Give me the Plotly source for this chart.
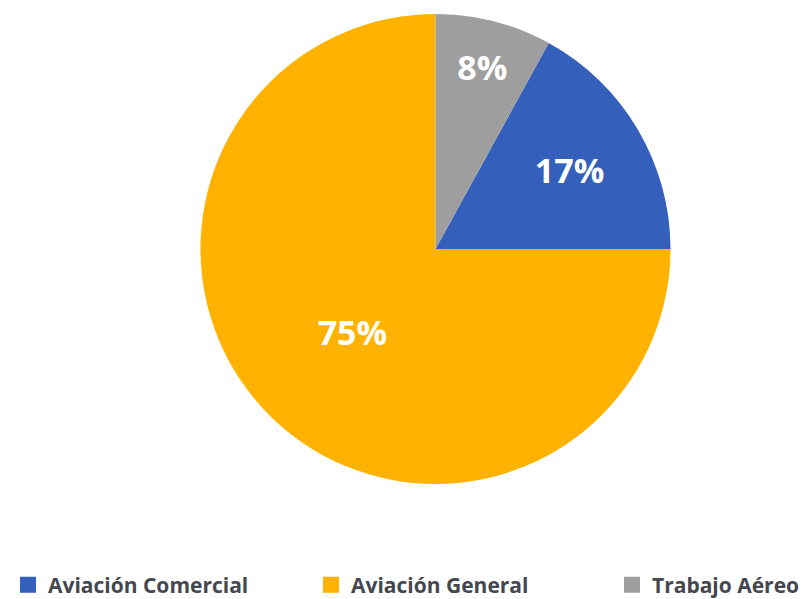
import plotly.graph_objects as go

labels = ["Aviación Comercial", "Aviación General", "Trabajo Aéreo"]
values = [17, 75, 8]
colors = ["#3460BB", "#FFB300", "#9E9E9E"]

legend_ids = ["legend", "legend2", "legend3"]
legend_x_px = [0, 303, 604]

W, H = 803, 591  # page body adds an 8px margin

fig = go.Figure()
fig.add_trace(go.Pie(
    labels=labels,
    values=values,
    marker=dict(colors=colors, line=dict(width=0)),
    sort=False,
    direction="clockwise",
    rotation=28.8,
    texttemplate="%{percent:.0%}",
    textposition="inside",
    insidetextorientation="horizontal",
    textfont=dict(family="Open Sans", size=34, color="white", weight="bold"),
    domain=dict(x=[52 / W, 1], y=[0, 1]),
    showlegend=False,
    hoverinfo="label+percent",
))

# legend entries (one legend per category so they can be spaced like the original)
for lab, col, lid in zip(labels, colors, legend_ids):
    fig.add_trace(go.Scatter(
        x=[None], y=[None], mode="markers", name=lab,
        marker=dict(symbol="square", size=16, color=col),
        legend=lid, showlegend=True, hoverinfo="skip",
    ))

legend_font = dict(family="Open Sans", size=21, color="#45474F", weight="bold")
layout_legends = {}
for lid, lx in zip(legend_ids, legend_x_px):
    layout_legends[lid] = dict(
        orientation="h",
        xref="container", yref="container",
        x=lx / W, xanchor="left",
        y=1 - 577 / H, yanchor="middle",
        font=legend_font,
        itemclick=False, itemdoubleclick=False,
        itemsizing="trace",
        bgcolor="rgba(0,0,0,0)",
    )

fig.update_layout(
    width=W, height=H,
    margin=dict(l=0, r=0, t=6, b=115),
    paper_bgcolor="white",
    plot_bgcolor="white",
    xaxis=dict(visible=False),
    yaxis=dict(visible=False),
    **layout_legends,
)

fig.write_html("out.html")
